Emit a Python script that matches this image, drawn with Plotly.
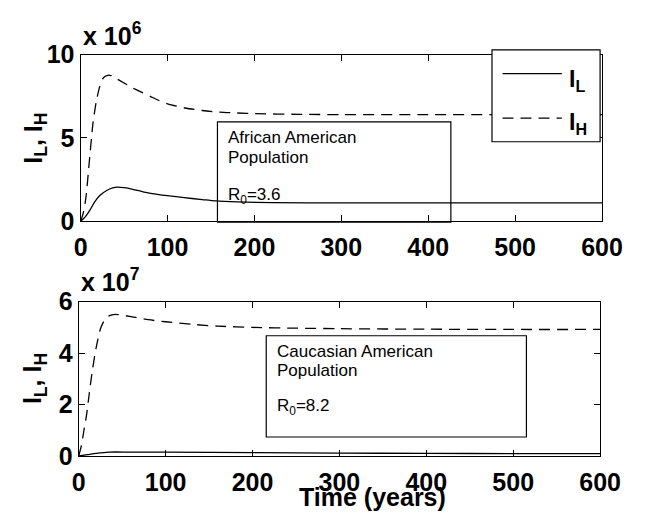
import plotly.graph_objects as go

W, H = 645, 522

# ---- African American population (top panel) ----
t_aa_h = [0, 3, 6, 10, 14, 18, 22, 26, 30, 35, 40, 50, 60, 70, 80, 90, 100,
          120, 140, 160, 180, 200, 250, 300, 400, 500, 600]
ih_aa = [0, 0.5e6, 1.4e6, 3.6e6, 5.8e6, 7.2e6, 8.1e6, 8.6e6, 8.75e6, 8.75e6,
         8.6e6, 8.3e6, 8.0e6, 7.75e6, 7.5e6, 7.25e6, 7.05e6, 6.8e6, 6.65e6,
         6.55e6, 6.5e6, 6.46e6, 6.42e6, 6.4e6, 6.4e6, 6.4e6, 6.4e6]
t_aa_l = [0, 5, 11, 16, 22, 30, 37, 42, 50, 60, 73, 90, 117, 140, 155, 180,
          220, 300, 400, 500, 600]
il_aa = [0, 0.25e6, 0.7e6, 1.15e6, 1.55e6, 1.85e6, 2.0e6, 2.05e6, 2.02e6,
         1.92e6, 1.75e6, 1.6e6, 1.43e6, 1.3e6, 1.22e6, 1.16e6, 1.12e6, 1.1e6,
         1.1e6, 1.1e6, 1.1e6]

# ---- Caucasian American population (bottom panel) ----
t_ca_h = [0, 3, 6, 9, 12, 16, 20, 25, 30, 35, 40, 45, 60, 80, 100, 130, 160,
          200, 250, 300, 400, 500, 600]
ih_ca = [0, 0.4e7, 1.0e7, 1.6e7, 2.4e7, 3.4e7, 4.2e7, 4.95e7, 5.3e7, 5.45e7,
         5.5e7, 5.5e7, 5.42e7, 5.3e7, 5.22e7, 5.12e7, 5.05e7, 5.0e7, 4.97e7,
         4.95e7, 4.93e7, 4.92e7, 4.92e7]
t_ca_l = [0, 10, 20, 35, 60, 100, 200, 300, 400, 500, 600]
il_ca = [0, 0.05e7, 0.1e7, 0.15e7, 0.15e7, 0.15e7, 0.13e7, 0.11e7, 0.1e7,
         0.09e7, 0.09e7]

x_ticks = [0, 100, 200, 300, 400, 500, 600]
y_ticks_top = [0, 5e6, 10e6]
y_labels_top = ["0", "5", "10"]
y_ticks_bot = [0, 2e7, 4e7, 6e7]
y_labels_bot = ["0", "2", "4", "6"]

FONT = "Liberation Sans"
DASH = "11px,7px"
LW = 1.3


def px(x):
    return x / W


def py(y):
    return 1 - y / H


fig = go.Figure()
line_solid = dict(color="black", width=LW, shape="spline", smoothing=0.7)
line_dash = dict(color="black", width=LW, dash=DASH, shape="spline", smoothing=0.7)

fig.add_trace(go.Scatter(x=t_aa_l, y=il_aa, mode="lines", line=line_solid,
                         xaxis="x", yaxis="y", showlegend=False))
fig.add_trace(go.Scatter(x=t_aa_h, y=ih_aa, mode="lines", line=line_dash,
                         xaxis="x", yaxis="y", showlegend=False))
fig.add_trace(go.Scatter(x=t_ca_l, y=il_ca, mode="lines", line=line_solid,
                         xaxis="x2", yaxis="y2", showlegend=False))
fig.add_trace(go.Scatter(x=t_ca_h, y=ih_ca, mode="lines", line=line_dash,
                         xaxis="x2", yaxis="y2", showlegend=False))

tickfont = dict(family=FONT, size=25, color="black", weight="bold")
axis_common = dict(showline=True, mirror="ticks", linecolor="black", linewidth=LW,
                   ticks="inside", ticklen=6, tickwidth=1, tickcolor="black",
                   showgrid=False, zeroline=False, tickfont=tickfont)

fig.update_layout(
    width=W, height=H,
    margin=dict(l=0, r=0, t=0, b=0),
    paper_bgcolor="white", plot_bgcolor="white",
    showlegend=False,
    xaxis=dict(domain=[px(77), px(622)], range=[0, 600], tickvals=x_ticks,
               anchor="y", ticklabelstandoff=4, **axis_common),
    yaxis=dict(domain=[py(219), py(43)], range=[0, 10e6], tickvals=y_ticks_top,
               ticktext=y_labels_top, anchor="x", **axis_common),
    xaxis2=dict(domain=[px(75), px(620)], range=[0, 600], tickvals=x_ticks,
                anchor="y2", ticklabelstandoff=4, **axis_common),
    yaxis2=dict(domain=[py(467), py(304)], range=[0, 6e7], tickvals=y_ticks_bot,
                ticktext=y_labels_bot, anchor="x2", **axis_common),
)

bold = dict(family=FONT, size=25, color="black")
text_font = dict(family=FONT, size=17, color="black")

annotations = [
    # exponent labels
    dict(text="<b>x 10<sup>6</sup></b>", x=px(77), y=py(40), xanchor="left",
         yanchor="bottom", font=bold),
    dict(text="<b>x 10<sup>7</sup></b>", x=px(75), y=py(300), xanchor="left",
         yanchor="bottom", font=bold),
    # y-axis titles
    dict(text="<b>I<sub>L</sub>, I<sub>H</sub></b>", x=px(29), y=py(131),
         textangle=-90, xanchor="center", yanchor="middle", font=bold),
    dict(text="<b>I<sub>L</sub>, I<sub>H</sub></b>", x=px(29), y=py(385),
         textangle=-90, xanchor="center", yanchor="middle", font=bold),
    # x-axis title
    dict(text="<b>Time (years)</b>", x=px(382), y=py(510), xanchor="center",
         yanchor="middle", font=bold),
    # top panel text box
    dict(text="African American", x=px(229), y=py(131), xanchor="left",
         yanchor="middle", font=text_font),
    dict(text="Population", x=px(229), y=py(152), xanchor="left",
         yanchor="middle", font=text_font),
    dict(text="R<sub>0</sub>=3.6", x=px(229), y=py(192), xanchor="left",
         yanchor="middle", font=text_font),
    # bottom panel text box
    dict(text="Caucasian American", x=px(280), y=py(357), xanchor="left",
         yanchor="middle", font=text_font),
    dict(text="Population", x=px(280), y=py(377), xanchor="left",
         yanchor="middle", font=text_font),
    dict(text="R<sub>0</sub>=8.2", x=px(280), y=py(415), xanchor="left",
         yanchor="middle", font=text_font),
    # legend labels
    dict(text="<b>I<sub>L</sub></b>", x=px(585), y=py(70), xanchor="left",
         yanchor="middle", font=dict(family=FONT, size=23, color="black")),
    dict(text="<b>I<sub>H</sub></b>", x=px(585), y=py(116), xanchor="left",
         yanchor="middle", font=dict(family=FONT, size=23, color="black")),
]
for a in annotations:
    a.update(xref="paper", yref="paper", showarrow=False)
fig.update_layout(annotations=annotations)

shapes = [
    # text boxes
    dict(type="rect", x0=px(220), x1=px(464), y0=py(220), y1=py(114),
         line=dict(color="black", width=1.2), fillcolor="rgba(0,0,0,0)"),
    dict(type="rect", x0=px(271), x1=px(543), y0=py(447), y1=py(340),
         line=dict(color="black", width=1.2), fillcolor="rgba(0,0,0,0)"),
    # legend box and samples
    dict(type="rect", x0=px(507), x1=px(620), y0=py(135), y1=py(38),
         line=dict(color="black", width=1.2), fillcolor="white", layer="above"),
    dict(type="line", x0=px(518), x1=px(580), y0=py(63), y1=py(63),
         line=dict(color="black", width=LW)),
    dict(type="line", x0=px(518), x1=px(580), y0=py(110), y1=py(110),
         line=dict(color="black", width=LW, dash=DASH)),
]
for s in shapes:
    s.update(xref="paper", yref="paper")
fig.update_layout(shapes=shapes)

fig.write_html("out.html")
